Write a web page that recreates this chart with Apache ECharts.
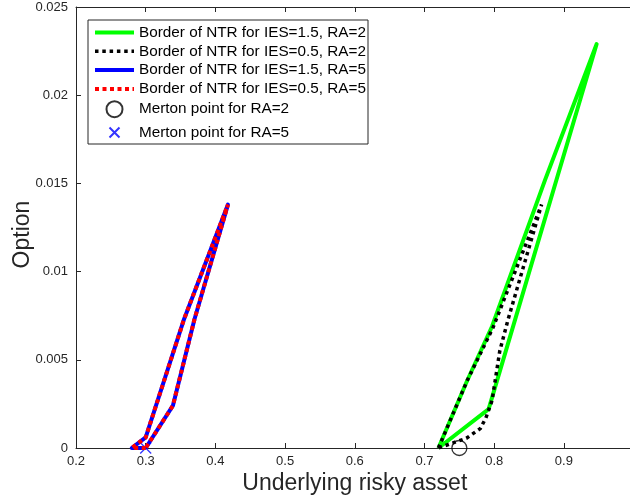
<!DOCTYPE html>
<html>
<head>
<meta charset="utf-8">
<script src="https://cdn.jsdelivr.net/npm/echarts@6/dist/echarts.min.js"></script>
<style>
html,body{margin:0;padding:0;background:#fff;overflow:hidden;}
#chart{width:630px;height:502px;}
</style>
</head>
<body>
<div id="chart"></div>
<script>
// ---- data ----
const xTickLabels = ['0.2','0.3','0.4','0.5','0.6','0.7','0.8','0.9','1'];
const yTickLabels = ['0','0.005','0.01','0.015','0.02','0.025'];

const seriesNames = [
  'Border of NTR for IES=1.5, RA=2',
  'Border of NTR for IES=0.5, RA=2',
  'Border of NTR for IES=1.5, RA=5',
  'Border of NTR for IES=0.5, RA=5',
  'Merton point for RA=2',
  'Merton point for RA=5'
];

const ntrIes15Ra2 = [[0.72,0],[0.761,0.0038],[0.797,0.0069],[0.873,0.0152],[0.947,0.0229],[0.792,0.0022],[0.72,0]];
const ntrIes05Ra2 = [[0.72,0],[0.761,0.0038],[0.798,0.0068],[0.868,0.0138],[0.82,0.0073],[0.808,0.0055],[0.797,0.0027],[0.788,0.0017],[0.78,0.0011],[0.76,0.00055],[0.72,0]];
const ntrIes15Ra5 = [[0.30,0],[0.28,0],[0.30,0.0006],[0.355,0.0073],[0.418,0.0138],[0.37,0.0073],[0.339,0.0024],[0.30,0]];
const ntrIes05Ra5 = [[0.30,0],[0.28,0],[0.30,0.0006],[0.355,0.0073],[0.418,0.0138],[0.37,0.0073],[0.339,0.0024],[0.30,0]];
const mertonRa2 = [[0.75,0]];
const mertonRa5 = [[0.30,0]];

// ---- chart ----
const axisColor = '#262626';
const font = 'Liberation Sans, Arial, Helvetica, sans-serif';
const chart = echarts.init(document.getElementById('chart'), null, {renderer:'canvas'});

const baseX = {
  type:'value', min:0.2, max:1, interval:0.1,
  axisLine:{show:true, onZero:false, lineStyle:{color:axisColor, width:1}},
  axisTick:{show:true, inside:true, length:5, lineStyle:{color:axisColor}},
  splitLine:{show:false}
};
const baseY = {
  type:'value', min:0, max:0.025, interval:0.005,
  axisLine:{show:true, onZero:false, lineStyle:{color:axisColor, width:1}},
  axisTick:{show:true, inside:true, length:5, lineStyle:{color:axisColor}},
  splitLine:{show:false}
};

const hideSymbol = {opacity:0, color:'rgba(0,0,0,0)', borderWidth:0};

const option = {
  backgroundColor:'#fff',
  animation:false,
  grid:{left:76, top:7, width:557.6, height:441, containLabel:false, outerBoundsMode:'none'},
  xAxis:[
    Object.assign({}, baseX, {
      position:'bottom',
      name:'Underlying risky asset', nameLocation:'middle', nameGap:24, nameMoveOverlap:false,
      nameTextStyle:{fontFamily:font, fontSize:23, color:axisColor},
      axisLabel:{show:true, margin:7, fontFamily:font, fontSize:13, color:axisColor,
        formatter:(v,i)=>xTickLabels[i]}
    }),
    Object.assign({}, baseX, {position:'top', axisLabel:{show:false}})
  ],
  yAxis:[
    Object.assign({}, baseY, {
      position:'left',
      name:'Option', nameLocation:'middle', nameGap:42, nameMoveOverlap:false,
      nameTextStyle:{fontFamily:font, fontSize:23, color:axisColor, padding:[0,14,0,0]},
      axisLabel:{show:true, margin:8, fontFamily:font, fontSize:13, color:axisColor,
        formatter:(v,i)=>yTickLabels[i]}
    })
  ],
  legend:{
    orient:'vertical', left:88, top:20,
    padding:[5,2,1,5],
    itemWidth:39, itemHeight:16, itemGap:3.8,
    borderColor:axisColor, borderWidth:1, borderRadius:0,
    backgroundColor:'#fff',
    lineStyle:{width:'inherit'},
    textStyle:{fontFamily:font, fontSize:15.3, color:'#000'},
    data:[
      {name:seriesNames[0], itemStyle:hideSymbol},
      {name:seriesNames[1], itemStyle:hideSymbol},
      {name:seriesNames[2], itemStyle:hideSymbol},
      {name:seriesNames[3], itemStyle:hideSymbol},
      {name:seriesNames[4]},
      {name:seriesNames[5]}
    ]
  },
  series:[
    {name:seriesNames[0], type:'line', data:ntrIes15Ra2, showSymbol:false, symbol:'none',
      lineStyle:{color:'#00ff00', width:4, join:'round'}, itemStyle:{color:'#00ff00'}},
    {name:seriesNames[1], type:'line', data:ntrIes05Ra2, showSymbol:false, symbol:'none',
      lineStyle:{color:'#000', width:3.5, type:[3.5,3.8]}, itemStyle:{color:'#000'}},
    {name:seriesNames[2], type:'line', data:ntrIes15Ra5, showSymbol:false, symbol:'none',
      lineStyle:{color:'#0000ff', width:4, join:'round'}, itemStyle:{color:'#0000ff'}},
    {name:seriesNames[3], type:'line', data:ntrIes05Ra5, showSymbol:false, symbol:'none',
      lineStyle:{color:'#ff0000', width:4, type:[4,3.5]}, itemStyle:{color:'#ff0000'}},
    {name:seriesNames[4], type:'scatter', data:mertonRa2, symbol:'circle', symbolSize:15, clip:false,
      itemStyle:{color:'rgba(255,255,255,0)', borderColor:'#000', borderWidth:1.3}},
    {name:seriesNames[5], type:'scatter', data:mertonRa5, symbol:'path://M-3 -3M0 0L10 10M10 0L0 10M13 13', symbolSize:17.6, clip:false,
      itemStyle:{color:'none', borderColor:'#0000ff', borderWidth:1.3}}
  ]
};
chart.setOption(option);
</script>
</body>
</html>
